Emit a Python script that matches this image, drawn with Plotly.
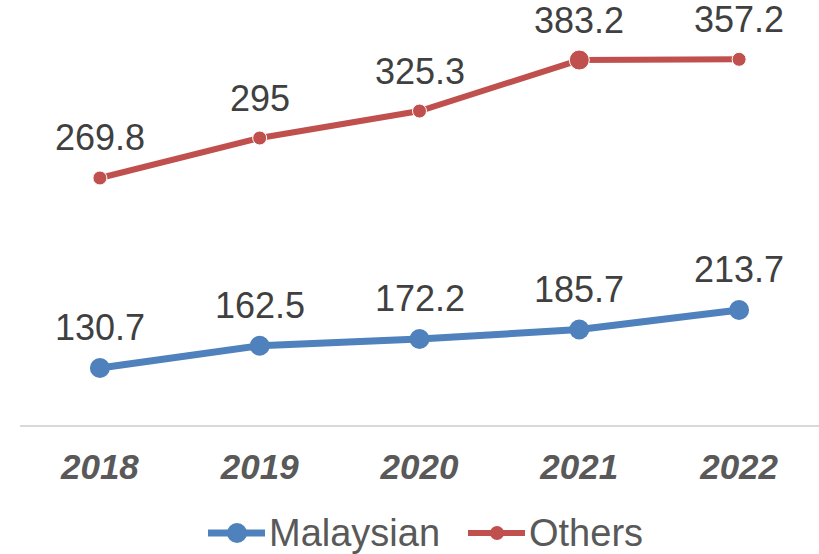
import plotly.graph_objects as go

years = ["2018", "2019", "2020", "2021", "2022"]

malaysian_values = [130.7, 162.5, 172.2, 185.7, 213.7]
malaysian_labels = ["130.7", "162.5", "172.2", "185.7", "213.7"]

# Positions of the Others points (on the chart's value scale)
others_values = [402.6, 459.8, 498.4, 571.4, 572.4]
others_labels = ["269.8", "295", "325.3", "383.2", "357.2"]

series_names = ["Malaysian", "Others"]

BLUE = "#4F81BD"
RED = "#C0504D"
FONT = "Liberation Sans, Arial, sans-serif"

W, H = 819, 554
ML, MR, MT, MB = 20, 0, 0, 129
PW, PH = W - ML - MR, H - MT - MB


def px_x(p):
    return (p - ML) / PW


def px_y(p):
    return (H - MB - p) / PH


fig = go.Figure()
fig.add_trace(go.Scatter(
    x=years, y=malaysian_values, name=series_names[0], mode="lines+markers",
    line=dict(color=BLUE, width=7), marker=dict(color=BLUE, size=20, opacity=1),
))
fig.add_trace(go.Scatter(
    x=years, y=others_values, name=series_names[1], mode="lines+markers",
    line=dict(color=RED, width=6),
    marker=dict(color=RED, size=[14, 14, 14, 20, 14], opacity=1),
))

for ys, labs in [(malaysian_values, malaysian_labels), (others_values, others_labels)]:
    for i, (y, t) in enumerate(zip(ys, labs)):
        fig.add_annotation(x=i, y=y, xref="x", yref="y", text=t, showarrow=False,
                           yanchor="middle", yshift=40,
                           font=dict(family=FONT, size=36, color="#404040"))

# Legend drawn by hand (Excel-style long symbols)
leg_y = 533
legend_items = [
    (series_names[0], BLUE, 7, 20, 208, 265, 237, 268),
    (series_names[1], RED, 6, 14, 468, 525, 497, 528),
]
for name, col, lw, msz, lx0, lx1, mx, tx in legend_items:
    fig.add_shape(type="line", xref="paper", yref="paper",
                  x0=px_x(lx0), x1=px_x(lx1), y0=px_y(leg_y), y1=px_y(leg_y),
                  line=dict(color=col, width=lw))
    fig.add_shape(type="circle", xref="paper", yref="paper",
                  xsizemode="pixel", ysizemode="pixel",
                  xanchor=px_x(mx), yanchor=px_y(leg_y),
                  x0=-msz / 2, x1=msz / 2, y0=-msz / 2, y1=msz / 2,
                  fillcolor=col, line=dict(width=0))
    fig.add_annotation(xref="paper", yref="paper", x=px_x(tx), y=px_y(leg_y),
                       xanchor="left", yanchor="middle", text=name, showarrow=False,
                       borderpad=0,
                       font=dict(family=FONT, size=38, color="#595959"))

fig.update_layout(
    width=W, height=H,
    margin=dict(l=ML, r=MR, t=MT, b=MB),
    paper_bgcolor="white", plot_bgcolor="white",
    showlegend=False,
)
fig.update_xaxes(
    type="category", range=[-0.5, 4.5], showgrid=False, zeroline=False,
    showline=True, linecolor="#D9D9D9", linewidth=2,
    ticks="", ticklabelstandoff=10,
    tickfont=dict(family=FONT, size=35, color="#595959", weight="bold", style="italic"),
)
fig.update_yaxes(range=[49.1, 657.3], visible=False, showgrid=False, zeroline=False)

fig.write_html("out.html", post_script="document.body.style.margin='0';",
               config={"displayModeBar": False})
